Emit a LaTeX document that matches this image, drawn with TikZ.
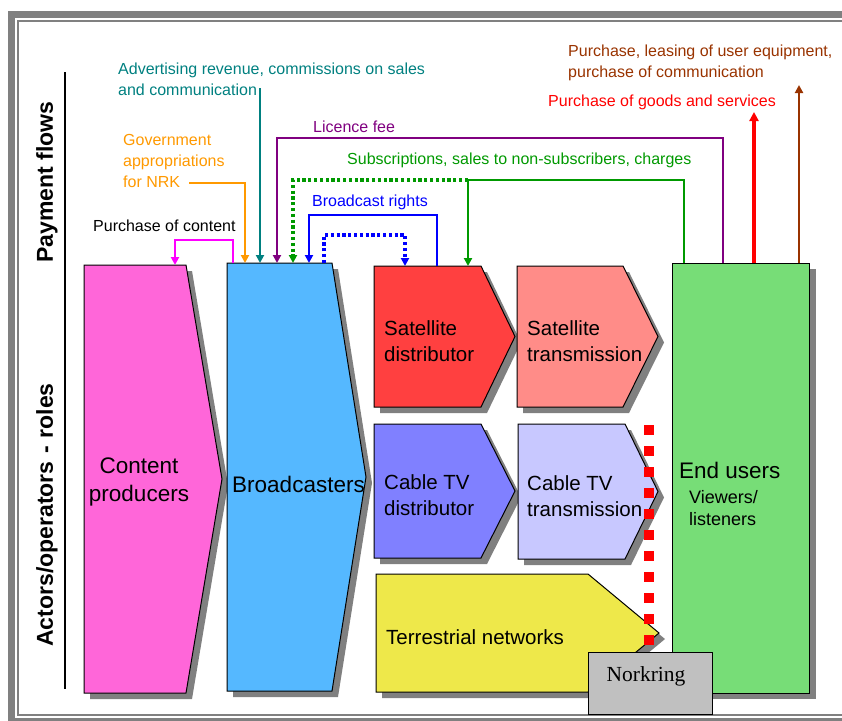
\documentclass[tikz,border=0pt]{standalone}
\usepackage{fontspec}
\setmainfont{Liberation Sans}
\newfontfamily\nkserif{Liberation Serif}
\usetikzlibrary{arrows.meta,calc}
\definecolor{cpc}{HTML}{FF66D9}
\definecolor{bcc}{HTML}{55B8FF}
\definecolor{sdc}{HTML}{FF4040}
\definecolor{stc}{HTML}{FF8C88}
\definecolor{cdc}{HTML}{8080FF}
\definecolor{ctc}{HTML}{C8C8FF}
\definecolor{tnc}{HTML}{EEE84A}
\definecolor{euc}{HTML}{77DD77}
\definecolor{nkc}{HTML}{C0C0C0}
\definecolor{shc}{HTML}{808080}
\definecolor{tealc}{HTML}{008080}
\definecolor{orc}{HTML}{FF9900}
\definecolor{puc}{HTML}{800080}
\definecolor{grc}{HTML}{009900}
\definecolor{blc}{HTML}{0000FF}
\definecolor{rdc}{HTML}{FF0000}
\definecolor{brc}{HTML}{993300}
\definecolor{mgc}{HTML}{FF00FF}
\newcommand\chevbox[3]{%
  \fill[shc] ([shift={(6,6)}]#1.north west) -- ([shift={(6,6)}]#1.north east)
    -- ([shift={(6+#2,6)}]#1.east) -- ([shift={(6,6)}]#1.south east)
    -- ([shift={(6,6)}]#1.south west) -- cycle;
  \draw[fill=#3, line width=1] (#1.north west) -- (#1.north east)
    -- ([shift={(#2,0)}]#1.east) -- (#1.south east) -- (#1.south west) -- cycle;}
\begin{document}
\begin{tikzpicture}[x=1pt,y=-1pt,
  body/.style={anchor=north west, inner sep=0, outer sep=0},
  boxtxt/.style={font=\fontsize{20.5}{26.5}\selectfont, align=left, inner sep=0, anchor=west},
  flowlbl/.style={font=\fontsize{16}{21}\selectfont, align=left, inner sep=0, anchor=west},
  axislbl/.style={font=\bfseries\fontsize{23}{27}\selectfont, rotate=90, inner sep=0},
  flow/.style={line width=2.7, -{Triangle[length=8pt,width=8pt]}},
  dotflow/.style={line width=3.2, dash pattern=on 3.2pt off 2.6pt, -{Triangle[length=8pt,width=8pt]}}]
\useasboundingbox (0,0) rectangle (842,720);
% frame
\draw[shc, line width=7] (11.5,14.5) rectangle (900,721.5);
\draw[shc, line width=2] (18,21) rectangle (860,714.5);
% axis labels
\node[axislbl] (pf) at (47,182) {Payment flows};
\node[axislbl] (ar) at (47,515) {Actors/operators\,\,-\,\,roles};
\coordinate (axtop) at (65,72);
\coordinate (axbot) at (65,689);
\draw[line width=1.5] (axtop) -- (axbot);
% boxes
\node[body, minimum width=102, minimum height=428] (cp) at (84,265) {};
\node[body, minimum width=105, minimum height=428] (bc) at (227,263) {};
\node[body, minimum width=107, minimum height=141] (sd) at (374,266) {};
\node[body, minimum width=106, minimum height=141] (st) at (517,266) {};
\node[body, minimum width=107, minimum height=134] (cd) at (374,424) {};
\node[body, minimum width=107, minimum height=135] (ct) at (518,424) {};
\node[body, minimum width=212, minimum height=118] (tn) at (376,574) {};
\node[body, minimum width=137, minimum height=430] (eu) at (672,263) {};
\node[body, minimum width=124, minimum height=62] (nk) at (588,652) {};
\chevbox{cp}{36}{cpc}
\chevbox{bc}{34}{bcc}
\chevbox{sd}{34}{sdc}
\chevbox{st}{35}{stc}
\chevbox{cd}{34}{cdc}
\chevbox{ct}{33}{ctc}
\chevbox{tn}{71}{tnc}
\fill[shc] ([shift={(7,6)}]eu.north west) rectangle ([shift={(7,6)}]eu.south east);
\draw[fill=euc, line width=1] (eu.north west) rectangle (eu.south east);
% box texts
\node[font=\fontsize{22.5}{28}\selectfont, align=center, inner sep=0] (cpt) at (139,482) {Content\\producers};
\node[font=\fontsize{22.5}{28}\selectfont, inner sep=0] (bct) at (298.5,484) {Broadcasters};
\node[boxtxt] (sdt) at (384,341) {Satellite\\distributor};
\node[boxtxt] (stt) at (527,341) {Satellite\\transmission};
\node[boxtxt] (cdt) at (384,495) {Cable TV\\distributor};
\node[boxtxt] (ctt) at (527,496) {Cable TV\\transmission};
\node[boxtxt] (tnt) at (386,637) {Terrestrial networks};
\node[font=\fontsize{22.5}{28}\selectfont, inner sep=0, anchor=west] (eut) at (679,470) {End users};
\node[font=\fontsize{18}{22}\selectfont, align=left, inner sep=0, anchor=west] (euv) at (689,508) {Viewers/\\listeners};
% flow labels
\node[flowlbl, text=tealc] (adv) at (118,79) {Advertising revenue, commissions on sales\\and communication};
\node[flowlbl, text=orc] (gov) at (123,161) {Government\\appropriations\\for NRK};
\node[flowlbl, text=puc] (lic) at (313,127) {Licence fee};
\node[flowlbl, text=grc] (sub) at (347,160) {Subscriptions, sales to non-subscribers, charges};
\node[flowlbl, text=blc] (brr) at (312,202) {Broadcast rights};
\node[flowlbl] (poc) at (93,226) {Purchase of content};
\node[flowlbl, text=rdc] (pgs) at (548,102) {Purchase of goods and services};
\node[flowlbl, text=brc] (ple) at (568,62.5) {Purchase, leasing of user equipment,\\purchase of communication};
% connectors
\coordinate (govend) at (189,183);
\coordinate (advend) at (260,88);
\coordinate (grjoin) at (468,180);
\draw[flow, mgc] (233,0 |- bc.north) |- (175,240) -- (175,0 |- cp.north);
\draw[flow, orc] (govend) -| (245,0 |- bc.north);
\draw[flow, tealc] (advend) -- (260,0 |- bc.north);
\draw[flow, puc] (723,0 |- eu.north) |- (277,138) -- (277,0 |- bc.north);
\draw[flow, grc] (684,0 |- eu.north) |- (grjoin) -- (468,0 |- sd.north);
\draw[dotflow, grc] (grjoin) -| (293,0 |- bc.north);
\draw[flow, blc] (437,0 |- sd.north) |- (309,215) -- (309,0 |- bc.north);
\draw[dotflow, blc] (324,0 |- bc.north) |- (405,235) -- (405,0 |- sd.north);
\coordinate (rdtop) at (754,112);
\coordinate (brtop) at (799,85);
\draw[line width=3.4, rdc, -{Triangle[length=9pt,width=9pt]}] (754,0 |- eu.north) -- (rdtop);
\draw[line width=2.7, brc, -{Triangle[length=8pt,width=8pt]}] (799,0 |- eu.north) -- (brtop);
% red separator
\coordinate (sepa) at (649,425);
\coordinate (sepb) at (649,645);
\draw[rdc, line width=10, dash pattern=on 10pt off 11pt] (sepa) -- (sepb);
% Norkring
\draw[fill=nkc, line width=1] (nk.north west) rectangle (nk.south east);
\node[font=\nkserif\fontsize{21.5}{25}\selectfont, inner sep=0] (nkt) at (646,676) {Norkring};
\end{tikzpicture}
\end{document}
